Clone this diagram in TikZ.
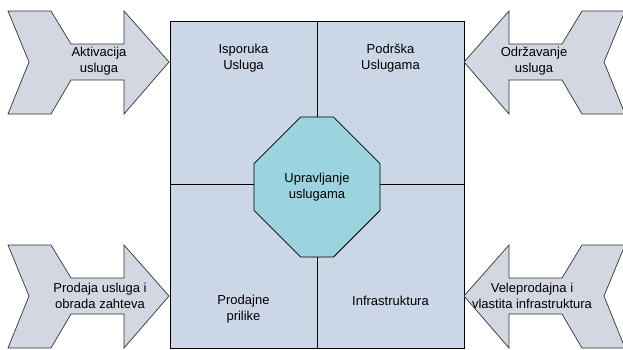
\documentclass[tikz,border=0pt]{standalone}
\usepackage{fontspec}
\setmainfont{Liberation Sans}
\usetikzlibrary{shapes.misc}
\definecolor{chevronfill}{HTML}{D3D7E1}
\definecolor{quadfill}{HTML}{CBD6E6}
\definecolor{octfill}{HTML}{9BD4DE}
\begin{document}
\begin{tikzpicture}[
    x=1pt, y=-1pt,
    chevron/.style={draw=black!80, fill=chevronfill, line width=0.7pt, line join=miter},
    quad/.style={rectangle, draw, fill=quadfill, line width=0.8pt, inner sep=0pt},
    octa/.style={chamfered rectangle, draw, fill=octfill, line width=0.8pt,
        chamfered rectangle xsep=38pt, chamfered rectangle ysep=40pt,
        minimum width=126pt, minimum height=140pt, inner sep=0pt},
    txt/.style={align=center, inner sep=0pt, font=\fontsize{13}{16}\selectfont}
]
    \useasboundingbox (0,0) rectangle (623,349);

    % Central square with four quadrants
    \node[quad, minimum width=294pt, minimum height=327pt] (usluge) at (317,184.5) {};
    \draw[line width=0.8pt] (usluge.north) -- (usluge.south);
    \draw[line width=0.8pt] (usluge.west) -- (usluge.east);
    \node[txt] (isporuka) at (243.5,58) {Isporuka\\Usluga};
    \node[txt] (podrska) at (390.5,58) {Podrška\\Uslugama};
    \node[txt] (prilike) at (243.5,309) {Prodajne\\prilike};
    \node[txt] (infra) at (390.5,301) {Infrastruktura};

    % Octagon in the middle
    \node[octa, txt] (upravljanje) at (317,187) {Upravljanje\\uslugama};

    % Left chevrons
    \draw[chevron] (8,11) -- (51,11) -- (71,44) -- (124,44) -- (124,11) -- (169,62)
        -- (124,114) -- (124,80) -- (71,80) -- (51,114) -- (8,114) -- (29,62) -- cycle;
    \node[txt] (aktivacija) at (99,61) {Aktivacija\\usluga};
    \draw[chevron] (8,245) -- (51,245) -- (71,278) -- (124,278) -- (124,245) -- (169,296)
        -- (124,348) -- (124,314) -- (71,314) -- (51,348) -- (8,348) -- (29,296) -- cycle;
    \node[txt] (prodaja) at (100,296) {Prodaja usluga i\\obrada zahteva};

    % Right chevrons
    \draw[chevron] (625,11) -- (582,11) -- (562,44) -- (509,44) -- (509,11) -- (464,62)
        -- (509,114) -- (509,80) -- (562,80) -- (582,114) -- (625,114) -- (604,62) -- cycle;
    \node[txt] (odrzavanje) at (534,61) {Održavanje\\usluga};
    \draw[chevron] (625,245) -- (582,245) -- (562,278) -- (509,278) -- (509,245) -- (464,296)
        -- (509,348) -- (509,314) -- (562,314) -- (582,348) -- (625,348) -- (604,296) -- cycle;
    \node[txt] (veleprodaja) at (532,296) {Veleprodajna i\\vlastita infrastruktura};
\end{tikzpicture}
\end{document}
